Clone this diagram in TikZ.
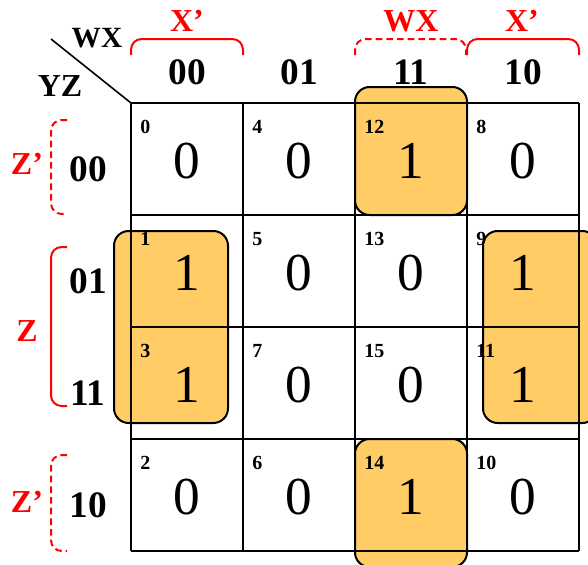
\documentclass[tikz,border=0pt]{standalone}
\usepackage{fontspec}
\setmainfont{Liberation Serif}
\definecolor{grpfill}{HTML}{FFCC66}

\begin{document}
\begin{tikzpicture}[
  x=0.75pt, y=-0.75pt,
  val/.style={font=\fontsize{40}{40}\selectfont, inner sep=0pt},
  idx/.style={font=\bfseries\fontsize{15}{15}\selectfont, inner sep=0pt, anchor=west},
  head/.style={font=\bfseries\fontsize{28}{28}\selectfont, inner sep=0pt},
  lit/.style={font=\bfseries\fontsize{24}{24}\selectfont, text=red, inner sep=0pt},
  brace/.style={draw=red, line width=1.5pt, rounded corners=8pt},
  dbrace/.style={brace, dash pattern=on 5pt off 3pt},
  grp/.style={draw, fill=grpfill, line width=1.5pt, rounded corners=11pt},
  cell/.style={line width=1.5pt}
]
\useasboundingbox (0,0) rectangle (588,564);
\clip (0,0) rectangle (588,564);

% groups of ones
\draw[grp] (114,231) rectangle (228,423);
\draw[grp] (483,231) rectangle (597,423);
\draw[grp] (355,87) rectangle (467,215);
\draw[grp] (355,439) rectangle (467,567);

% map grid
\foreach \i in {0,...,4} {
  \draw[cell] (131+112*\i,103) -- (131+112*\i,551);
  \draw[cell] (131,103+112*\i) -- (579,103+112*\i);
}

% corner label
\coordinate (corner) at (131,103);
\coordinate (diag) at (51,39);
\draw[line width=1.2pt] (diag) -- (corner);
\node[font=\bfseries\fontsize{22}{22}\selectfont, inner sep=0pt] (wx) at (97,38) {WX};
\node[font=\bfseries\fontsize{24}{24}\selectfont, inner sep=0pt] (yz) at (60,86) {YZ};

% column and row headings
\foreach \c/\t in {0/00,1/01,2/11,3/10}
  \node[head] (col\t) at (187+112*\c,72) {\t};
\foreach \r/\t in {0/00,1/01,2/11,3/10}
  \node[head] (row\t) at (88,169+112*\r) {\t};

% cells: column / row / minterm / value
\foreach \c/\r/\m/\v in {0/0/0/0, 1/0/4/0, 2/0/12/1, 3/0/8/0,
                         0/1/1/1, 1/1/5/0, 2/1/13/0, 3/1/9/1,
                         0/2/3/1, 1/2/7/0, 2/2/15/0, 3/2/11/1,
                         0/3/2/0, 1/3/6/0, 2/3/14/1, 3/3/10/0} {
  \node[val] (v\m) at (187+112*\c,161+112*\r) {\v};
  \node[idx] (i\m) at (140+112*\c,127+112*\r) {\m};
}

% literal brackets
\draw[brace] (131,55) |- (243,39) -- (243,55);
\draw[dbrace] (355,55) |- (466,39) -- (466,55);
\draw[brace] (467,55) |- (579,39) -- (579,55);
\node[lit] (xn1) at (187,21) {X’};
\node[lit] (wxl) at (411,21) {WX};
\node[lit] (xn2) at (522,21) {X’};

\draw[dbrace] (67,120) -| (51,214) -- (67,214);
\draw[brace] (67,247) -| (51,406) -- (67,406);
\draw[dbrace] (67,455) -| (51,551) -- (67,551);
\node[lit] (zn1) at (27,164) {Z’};
\node[lit] (z) at (27,331) {Z};
\node[lit] (zn2) at (27,502) {Z’};
\end{tikzpicture}
\end{document}
